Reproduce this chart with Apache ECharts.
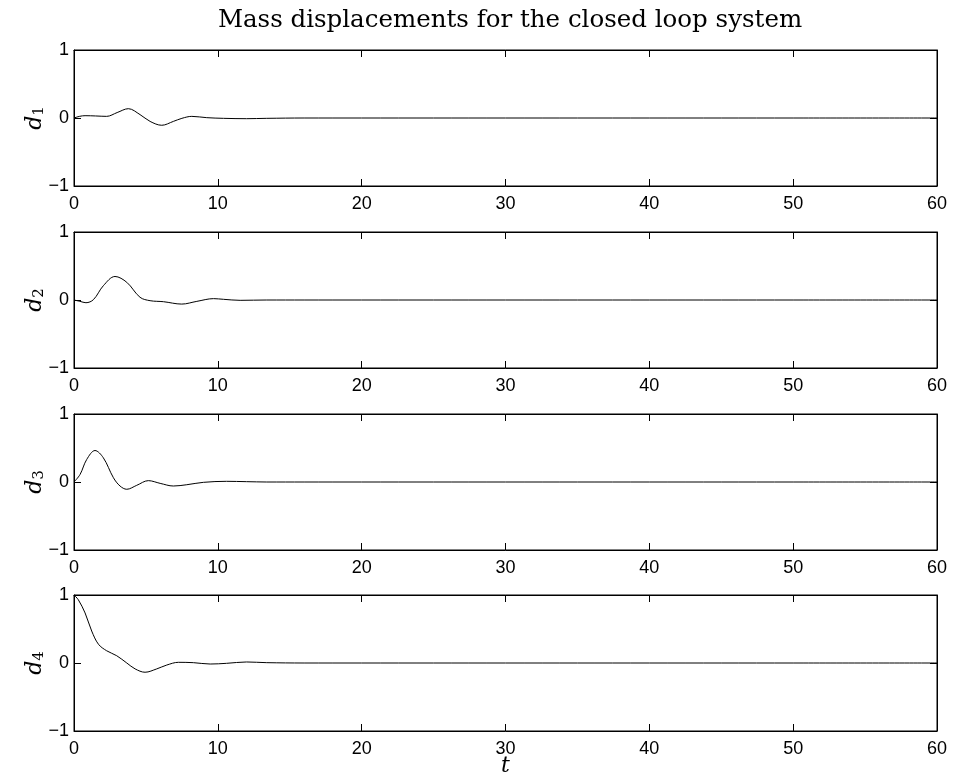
<!DOCTYPE html>
<html><head><meta charset="utf-8">
<script src="https://cdn.jsdelivr.net/npm/echarts@6/dist/echarts.min.js"></script>
<style>html,body{margin:0;padding:0;background:#fff}#c{width:955px;height:783px}</style>
</head><body><div id="c"></div>
<script>
const titleText = 'Mass displacements for the closed loop system';
const xTicks = [0, 10, 20, 30, 40, 50, 60];
const yTicks = [-1, 0, 1];
const t1 = [0, 0.4, 0.77, 1.5, 2.27, 3.0, 3.78, 4.59, 5.29, 6.1, 6.91, 7.5, 8.19, 9.23, 10.39, 12.0, 13.4, 16, 20, 30, 40, 50, 60];
const d1 = [0, 0.025, 0.034, 0.03, 0.024, 0.08, 0.137, 0.05, -0.05, -0.107, -0.05, -0.005, 0.024, 0.005, -0.005, -0.01, -0.005, 0, 0, 0, 0, 0, 0];
const t2 = [0, 0.42, 0.83, 1.35, 2.04, 2.85, 3.67, 4.59, 5.29, 6.22, 7.49, 8.54, 9.7, 10.4, 11.55, 13.4, 16, 20, 30, 40, 50, 60];
const d2 = [0, -0.02, -0.04, 0.005, 0.21, 0.346, 0.26, 0.04, -0.01, -0.025, -0.06, -0.02, 0.02, 0.01, -0.005, 0, 0, 0, 0, 0, 0, 0];
const t3 = [0, 0.42, 0.88, 1.46, 2.04, 2.74, 3.2, 3.67, 4.36, 5.17, 5.99, 6.91, 7.84, 9.0, 10.6, 12.0, 13.4, 16, 20, 30, 40, 50, 60];
const d3 = [0, 0.11, 0.33, 0.463, 0.356, 0.063, -0.059, -0.107, -0.049, 0.02, -0.02, -0.059, -0.04, -0.005, 0.01, 0.005, 0, 0, 0, 0, 0, 0, 0];
const t4 = [0, 0.3, 0.77, 1.23, 1.7, 2.27, 2.97, 3.67, 4.25, 4.94, 5.75, 6.45, 7.26, 8.3, 9.47, 10.6, 12.0, 13.4, 16, 20, 30, 40, 50, 60];
const d4 = [1.0, 0.93, 0.736, 0.47, 0.276, 0.18, 0.107, 0, -0.087, -0.136, -0.087, -0.03, 0.01, 0.005, -0.015, -0.005, 0.015, 0.005, 0, 0, 0, 0, 0, 0];
const seriesT = [t1, t2, t3, t4];
const seriesD = [d1, d2, d3, d4];
const names = ['1', '2', '3', '4'];

const tops = [50, 232, 414, 595];
const H = 136;
const grids = [], xAxes = [], yAxes = [], series = [];
const sans = '"Liberation Sans Narrow", "Liberation Sans", Arial, sans-serif';
const serif = 'DejaVu Serif';
for (let i = 0; i < 4; i++) {
  grids.push({left: 74, width: 863, top: tops[i], height: H, show: true, borderColor: '#000', borderWidth: 1, backgroundColor: '#fff'});
  const baseX = {gridIndex: i, type: 'value', min: 0, max: 60, interval: 10,
    axisLine: {show: true, onZero: false, lineStyle: {color: '#000', width: 1}},
    axisTick: {show: true, inside: true, length: 7, lineStyle: {color: '#000'}},
    splitLine: {show: false}};
  xAxes.push(Object.assign({}, baseX, {position: 'bottom',
    axisLabel: {show: true, color: '#000', fontFamily: sans, fontSize: 18, margin: 9},
    name: i === 3 ? 't' : '', nameLocation: 'middle', nameGap: 24, nameMoveOverlap: false,
    nameTextStyle: {fontFamily: serif, fontStyle: 'italic', fontSize: 22, color: '#000'}}));
  xAxes.push(Object.assign({}, baseX, {position: 'top', axisLabel: {show: false}}));
  const baseY = {gridIndex: i, type: 'value', min: -1, max: 1, interval: 1,
    axisLine: {show: true, onZero: false, lineStyle: {color: '#000', width: 1}},
    axisTick: {show: true, inside: true, length: 7, lineStyle: {color: '#000'}},
    splitLine: {show: false}};
  yAxes.push(Object.assign({}, baseY, {position: 'left',
    axisLabel: {show: true, color: '#000', fontFamily: sans, fontSize: 18, margin: 5,
      formatter: v => v < 0 ? '\u2212' + Math.abs(v) : String(v)},
    name: '{i|d}{s|' + names[i] + '}', nameLocation: 'middle', nameGap: 27, nameRotate: 90, nameMoveOverlap: false,
    nameTextStyle: {color: '#000', rich: {
      i: {fontFamily: serif, fontStyle: 'italic', fontSize: 22, color: '#000'},
      s: {fontFamily: serif, fontSize: 15, color: '#000', verticalAlign: 'bottom', padding: [8, 0, 0, 0]}}}}));
  yAxes.push(Object.assign({}, baseY, {position: 'right', axisLabel: {show: false}}));
  series.push({type: 'line', xAxisIndex: 2 * i, yAxisIndex: 2 * i, smooth: 0.35, symbol: 'none',
    lineStyle: {color: '#000', width: 1}, data: seriesT[i].map((t, k) => [t, seriesD[i][k]])});
}
const chart = echarts.init(document.getElementById('c'), null, {renderer: 'canvas'});
chart.setOption({
  animation: false, backgroundColor: '#fff',
  graphic: [{type: 'text', x: 510, y: 21, style: {text: titleText, textAlign: 'center', textVerticalAlign: 'middle',
    fontFamily: serif, fontSize: 24.5, fill: '#000'}}],
  grid: grids, xAxis: xAxes, yAxis: yAxes, series: series
});
</script></body></html>
